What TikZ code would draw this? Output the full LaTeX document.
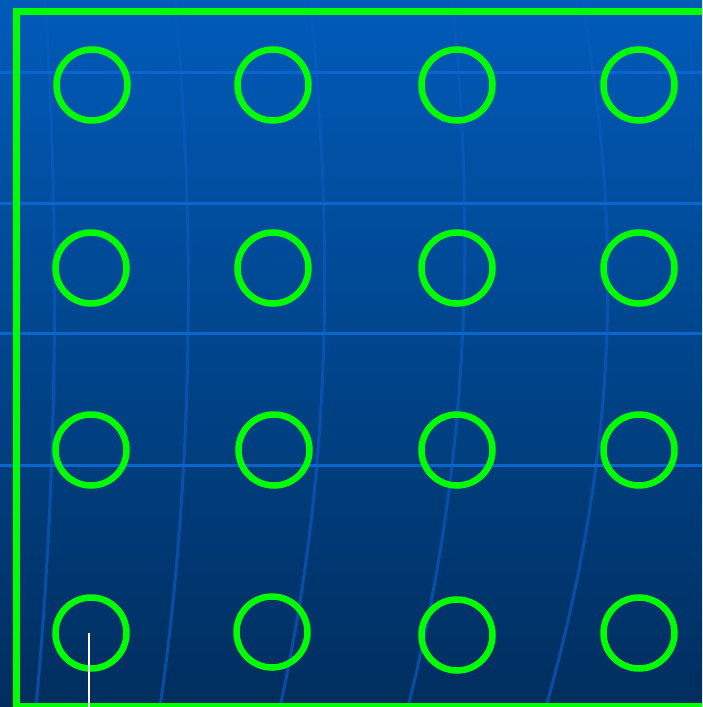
\documentclass[tikz,border=0pt]{standalone}
\usetikzlibrary{positioning}

\definecolor{bgtop}{HTML}{005BB9}
\definecolor{bgbottom}{HTML}{002E5E}
\definecolor{gridblue}{HTML}{0A66CC}
\definecolor{faintblue}{HTML}{0A5AC0}
\definecolor{ringgreen}{HTML}{00FF00}

\begin{document}
\begin{tikzpicture}[
    x=1pt,
    y=-1pt,
    ring/.style={
        circle,
        draw=ringgreen,
        line width=6.5pt,
        minimum size=71pt,
        inner sep=0pt
    },
    gridline/.style={draw=gridblue, line width=3pt},
    faintline/.style={draw=faintblue, line width=3pt, opacity=0.7},
    frameline/.style={draw=ringgreen, line width=6.7pt},
    tickline/.style={draw=white, line width=2pt}
]

% Background
\useasboundingbox (0,0) rectangle (702,707);
\clip (0,0) rectangle (702,707);
\shade[top color=bgtop, bottom color=bgbottom] (0,0) rectangle (702,707);

% Faint curved lines
\draw[faintline] (45,0) .. controls (58,200) and (60,450) .. (36,707);
\draw[faintline] (175,0) .. controls (198,250) and (190,500) .. (160,707);
\draw[faintline] (310,0) .. controls (335,250) and (330,480) .. (280,707);
\draw[faintline] (452,0) .. controls (478,250) and (465,480) .. (408,707);
\draw[faintline] (582,0) .. controls (625,250) and (615,460) .. (546,707);

% Horizontal grid lines
\draw[gridline] (0,72) -- (702,72);
\draw[gridline] (0,203) -- (702,203);
\draw[gridline] (0,333) -- (702,333);
\draw[gridline] (0,465) -- (702,465);

% Frame
\draw[frameline] (705,11.3) -- (16.7,11.3) -- (16.7,706) -- (705,706);

% Rings, row 1
\node[ring] (r1c1) at (92,85) {};
\node[ring] (r1c2) at (273,85) {};
\node[ring] (r1c3) at (457,85) {};
\node[ring] (r1c4) at (639,85) {};

% Rings, row 2
\node[ring] (r2c1) at (91,268) {};
\node[ring] (r2c2) at (273,268) {};
\node[ring] (r2c3) at (457,268) {};
\node[ring] (r2c4) at (639,268) {};

% Rings, row 3
\node[ring] (r3c1) at (91,450) {};
\node[ring] (r3c2) at (274,450) {};
\node[ring] (r3c3) at (457,450) {};
\node[ring] (r3c4) at (639,450) {};

% Rings, row 4
\node[ring] (r4c1) at (91,633) {};
\node[ring] (r4c2) at (272,632) {};
\node[ring] (r4c3) at (457,635) {};
\node[ring] (r4c4) at (639,633) {};

% Pointer
\coordinate (tiptop) at (89,633);
\coordinate (tipbottom) at (89,707);
\draw[tickline] (tiptop) -- (tipbottom);

\end{tikzpicture}
\end{document}
